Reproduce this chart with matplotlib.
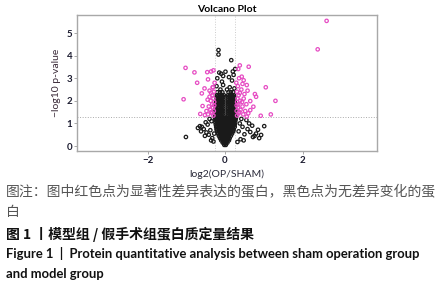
import matplotlib
matplotlib.use("Agg")
import matplotlib.pyplot as plt

# ---------------- data ----------------
# significant proteins (pink)
sig_x = [2.62, 2.39, -1.02, -0.79, -1.07, -0.72, -0.44, -0.46, -0.30, -0.36,
         0.38, 0.34, 0.61, 1.05, 1.30, 1.18, 0.92, 0.80, 0.77, 0.48,
         0.56, 0.43, -0.53, -0.60, -0.40, -0.58, -0.52, -0.64, -0.32, 0.73,
         0.65, 0.56, 0.65,
         -0.30, -0.34, -0.29, -0.38, -0.31, -0.42, -0.33, -0.28, -0.37, -0.30,
         -0.45, -0.33, -0.29, -0.40, -0.35, -0.48, -0.44, -0.28, -0.36, -0.31, -0.27,
         0.31, 0.35, 0.30, 0.40, 0.33, 0.45, 0.34, 0.31, 0.39, 0.32,
         0.48, 0.35, 0.31, 0.42, 0.37, 0.52, 0.47, 0.30, 0.38, 0.33,
         0.29, 0.44, 0.55, 0.60, 0.50, 0.36, 0.45, 0.58]
sig_y = [5.54, 4.28, 3.46, 3.26, 2.07, 2.80, 2.95, 3.27, 3.35, 3.30,
         3.57, 3.41, 3.51, 2.60, 2.00, 1.40, 1.34, 2.18, 2.30, 2.91,
         2.70, 3.07, 2.55, 2.33, 2.18, 1.77, 1.37, 1.42, 2.60, 1.74,
         1.59, 1.30, 1.99,
         1.35, 1.45, 1.55, 1.60, 1.70, 1.75, 1.85, 1.95, 2.00, 2.10,
         2.05, 2.25, 2.40, 2.45, 1.50, 1.55, 1.40, 1.80, 2.35, 2.60, 2.80,
         1.35, 1.45, 1.55, 1.60, 1.70, 1.75, 1.85, 1.95, 2.00, 2.10,
         2.10, 2.25, 2.40, 2.50, 1.50, 1.55, 1.40, 1.80, 2.35, 2.65,
         2.80, 1.95, 1.85, 1.45, 2.30, 3.00, 2.75, 2.45]

# non-significant proteins (black)
ns_x = [-0.02, 0.02, 0.00,
        -0.06, -0.02, 0.02, 0.06,
        -0.10, -0.05, 0.00, 0.05, 0.10,
        -0.13, -0.08, -0.03, 0.02, 0.07, 0.12,
        -0.16, -0.11, -0.05, 0.00, 0.05, 0.10, 0.15,
        -0.18, -0.12, -0.06, 0.00, 0.06, 0.12, 0.18,
        -0.20, -0.14, -0.08, -0.02, 0.04, 0.10, 0.16, 0.21,
        -0.22, -0.15, -0.09, -0.03, 0.03, 0.09, 0.15, 0.22,
        -0.23, -0.16, -0.10, -0.04, 0.02, 0.08, 0.14, 0.20, 0.25,
        -0.24, -0.17, -0.11, -0.05, 0.01, 0.07, 0.13, 0.19, 0.25,
        -0.25, -0.18, -0.12, -0.06, 0.00, 0.06, 0.12, 0.18, 0.26,
        -0.25, -0.19, -0.13, -0.07, -0.01, 0.05, 0.11, 0.17, 0.23, 0.27,
        -0.26, -0.19, -0.13, -0.07, -0.01, 0.05, 0.11, 0.17, 0.23, 0.28,
        -0.25, -0.18, -0.11, -0.04, 0.08, 0.14, 0.20, 0.26,
        -0.24, -0.17, -0.10, -0.04, 0.08, 0.14, 0.20, 0.26,
        -0.25, -0.18, -0.11, -0.04, 0.08, 0.14, 0.21, 0.27,
        -0.24, -0.17, -0.10, -0.04, 0.08, 0.14, 0.20, 0.26,
        -0.24, -0.17, -0.10, -0.04, 0.08, 0.14, 0.20, 0.26,
        -0.23, -0.16, -0.10, -0.04, 0.08, 0.14, 0.20, 0.25,
        -0.23, -0.16, -0.10, -0.04, 0.08, 0.14, 0.20, 0.25,
        -0.22, -0.15, -0.09, -0.04, 0.08, 0.14, 0.19, 0.24,
        -0.22, -0.15, -0.09, -0.04, 0.08, 0.13, 0.19, 0.24,
        -0.21, -0.14, -0.08, -0.03, 0.08, 0.13, 0.18, 0.23,
        -0.20, -0.13, -0.07, 0.09, 0.15, 0.21,
        # staggered fill of the dense core
        -0.04, 0.04, -0.08, 0.00, 0.08, -0.11, -0.05, 0.00, 0.05, 0.10,
        -0.14, -0.08, -0.02, 0.04, 0.10, 0.15, -0.17, -0.11, -0.05, 0.02, 0.08, 0.14, 0.19,
        -0.19, -0.12, -0.06, 0.00, 0.06, 0.12, 0.18, 0.23,
        -0.21, -0.14, -0.07, 0.00, 0.07, 0.14, 0.21,
        -0.22, -0.15, -0.08, -0.01, 0.05, 0.11, 0.17, 0.23,
        -0.22, -0.15, -0.08, -0.02, 0.04, 0.10, 0.16, 0.22,
        -0.22, -0.16, -0.09, -0.03, 0.03, 0.09, 0.15, 0.21, 0.26,
        -0.21, -0.14, -0.07, 0.11, 0.17, 0.23,
        -0.21, -0.14, -0.07, 0.11, 0.17, 0.23,
        -0.20, -0.13, -0.07, 0.11, 0.17, 0.22,
        -0.20, -0.13, -0.07, 0.11, 0.17, 0.22,
        -0.19, -0.12, -0.06, 0.11, 0.16, 0.21,
        # sparse points
        -0.17, -0.17, 0.16, 0.01, 0.26, -0.15, -0.10, 0.20, -0.20, 0.10,
        -0.08, 0.18, -0.22, 0.12, -0.05, 0.24, 0.05, -0.12, 0.22, -0.05,
        -1.01, -0.65, -0.60, -0.55, -0.48, -0.42, -0.38, -0.45, -0.35, -0.33,
        -0.30, -0.28, -0.50, -0.40, -0.62, -0.70, -0.36, -0.52,
        1.01, 0.93, 0.80, 0.72, 0.65, 0.58, 0.50, 0.45, 0.40, 0.38,
        0.35, 0.32, 0.62, 0.55, 0.85, 0.70, 0.42, 0.88, 0.48, 0.76]
ns_y = [0.05, 0.05, 0.10,
        0.15, 0.15, 0.15, 0.15,
        0.25, 0.25, 0.25, 0.25, 0.25,
        0.35, 0.35, 0.35, 0.35, 0.35, 0.35,
        0.45, 0.45, 0.45, 0.45, 0.45, 0.45, 0.45,
        0.55, 0.55, 0.55, 0.55, 0.55, 0.55, 0.55,
        0.65, 0.65, 0.65, 0.65, 0.65, 0.65, 0.65, 0.65,
        0.75, 0.75, 0.75, 0.75, 0.75, 0.75, 0.75, 0.75,
        0.85, 0.85, 0.85, 0.85, 0.85, 0.85, 0.85, 0.85, 0.85,
        0.95, 0.95, 0.95, 0.95, 0.95, 0.95, 0.95, 0.95, 0.95,
        1.05, 1.05, 1.05, 1.05, 1.05, 1.05, 1.05, 1.05, 1.05,
        1.15, 1.15, 1.15, 1.15, 1.15, 1.15, 1.15, 1.15, 1.15, 1.15,
        1.25, 1.25, 1.25, 1.25, 1.25, 1.25, 1.25, 1.25, 1.25, 1.25,
        1.35, 1.35, 1.35, 1.35, 1.35, 1.35, 1.35, 1.35,
        1.45, 1.45, 1.45, 1.45, 1.45, 1.45, 1.45, 1.45,
        1.55, 1.55, 1.55, 1.55, 1.55, 1.55, 1.55, 1.55,
        1.65, 1.65, 1.65, 1.65, 1.65, 1.65, 1.65, 1.65,
        1.75, 1.75, 1.75, 1.75, 1.75, 1.75, 1.75, 1.75,
        1.85, 1.85, 1.85, 1.85, 1.85, 1.85, 1.85, 1.85,
        1.95, 1.95, 1.95, 1.95, 1.95, 1.95, 1.95, 1.95,
        2.05, 2.05, 2.05, 2.05, 2.05, 2.05, 2.05, 2.05,
        2.15, 2.15, 2.15, 2.15, 2.15, 2.15, 2.15, 2.15,
        2.25, 2.25, 2.25, 2.25, 2.25, 2.25, 2.25, 2.25,
        2.38, 2.38, 2.38, 2.38, 2.38, 2.38,
        0.20, 0.20, 0.30, 0.30, 0.30, 0.40, 0.40, 0.40, 0.40, 0.40,
        0.60, 0.60, 0.60, 0.60, 0.60, 0.60, 0.80, 0.80, 0.80, 0.80, 0.80, 0.80, 0.80,
        1.00, 1.00, 1.00, 1.00, 1.00, 1.00, 1.00, 1.00,
        0.70, 0.70, 0.70, 0.70, 0.70, 0.70, 0.70,
        1.10, 1.10, 1.10, 1.10, 1.10, 1.10, 1.10, 1.10,
        0.90, 0.90, 0.90, 0.90, 0.90, 0.90, 0.90, 0.90,
        1.20, 1.20, 1.20, 1.20, 1.20, 1.20, 1.20, 1.20, 1.20,
        1.40, 1.40, 1.40, 1.40, 1.40, 1.40,
        1.60, 1.60, 1.60, 1.60, 1.60, 1.60,
        1.80, 1.80, 1.80, 1.80, 1.80, 1.80,
        2.00, 2.00, 2.00, 2.00, 2.00, 2.00,
        2.20, 2.20, 2.20, 2.20, 2.20, 2.20,
        4.25, 4.05, 3.80, 3.29, 3.41, 3.25, 3.20, 3.30, 3.00, 3.05,
        2.85, 2.90, 2.65, 2.60, 2.70, 2.55, 2.50, 2.50, 3.15, 3.10,
        0.40, 0.88, 0.85, 0.75, 0.60, 0.50, 0.70, 0.95, 1.10, 0.35,
        0.20, 0.55, 1.05, 1.20, 0.65, 0.80, 0.25, 0.45,
        0.88, 0.49, 0.55, 0.40, 0.62, 0.75, 0.52, 0.85, 0.30, 1.00,
        0.65, 0.18, 1.00, 1.15, 0.72, 0.90, 1.20, 0.35, 0.25, 0.45]

x_ticks = [-2, 0, 2]
y_ticks = [0, 1, 2, 3, 4, 5]
fc_cut = 0.26
p_cut = 1.301

# ---------------- figure ----------------
W, H = 446, 300
fig = plt.figure(figsize=(W / 100, H / 100), dpi=100)
ax = fig.add_axes([77 / W, 1 - 151 / H, 300 / W, 136 / H])

pink = "#E64CC3"
ax.scatter(ns_x, ns_y, s=6, facecolors="none", edgecolors="#1a1a1a", linewidths=0.9, zorder=2)
ax.scatter(sig_x, sig_y, s=6, facecolors="none", edgecolors=pink, linewidths=0.9, zorder=3)

ax.axvline(-fc_cut, color="#CCCCCC", lw=0.7, ls=":", zorder=1)
ax.axvline(fc_cut, color="#CCCCCC", lw=0.7, ls=":", zorder=1)
ax.axhline(p_cut, color="#AAAAAA", lw=0.7, ls=":", zorder=1)

ax.set_xlim(-3.82, 3.92)
ax.set_ylim(-0.22, 5.8)
ax.set_xticks(x_ticks)
ax.set_xticklabels([("\u2212" + str(abs(t))) if t < 0 else str(t) for t in x_ticks])
ax.set_yticks(y_ticks)

for sp in ax.spines.values():
    sp.set_color("#A8A8A8")
    sp.set_linewidth(1.0)
ax.tick_params(length=2, width=0.7, color="#A8A8A8", pad=1.5,
               labelsize=7, labelcolor="#1c1c30")
for lab in ax.get_xticklabels() + ax.get_yticklabels():
    lab.set_fontweight("bold")
    lab.set_family(["Lato", "DejaVu Sans"])

ax.set_title("Volcano Plot", fontsize=7.5, fontweight="bold", family=["Lato", "DejaVu Sans"], pad=2)
ax.set_xlabel("log2(OP/SHAM)", fontsize=7.5, family=["Lato", "DejaVu Sans"], color="#2a2a3a", labelpad=3)
ax.set_ylabel("\u2212log10 p-value", fontsize=7.5, family=["Lato", "DejaVu Sans"], color="#3a2a38", labelpad=4)

# ---------------- caption ----------------
cjk = ["Noto Sans CJK SC", "DejaVu Sans"]
def px(x, y):
    return x / W, 1 - y / H

fig.text(*px(6, 192), "图注：图中红色点为显著性差异表达的蛋白，黑色点为无差异变化的蛋",
         fontsize=10, family=cjk, color="#555555", va="center", ha="left")
fig.text(*px(6, 212), "白", fontsize=10, family=cjk, color="#555555", va="center", ha="left")
fig.text(*px(6, 234), "图 1 丨模型组 / 假手术组蛋白质定量结果",
         fontsize=10, family=cjk, fontweight="bold", color="#111111", va="center", ha="left")
fig.text(*px(6, 254), "Figure 1  |  Protein quantitative analysis between sham operation group",
         fontsize=9.4, family=["Lato", "DejaVu Sans"], fontweight="bold", color="#111111", va="center", ha="left")
fig.text(*px(6, 274), "and model group",
         fontsize=9.4, family=["Lato", "DejaVu Sans"], fontweight="bold", color="#111111", va="center", ha="left")

fig.savefig("out.png", dpi=100)
